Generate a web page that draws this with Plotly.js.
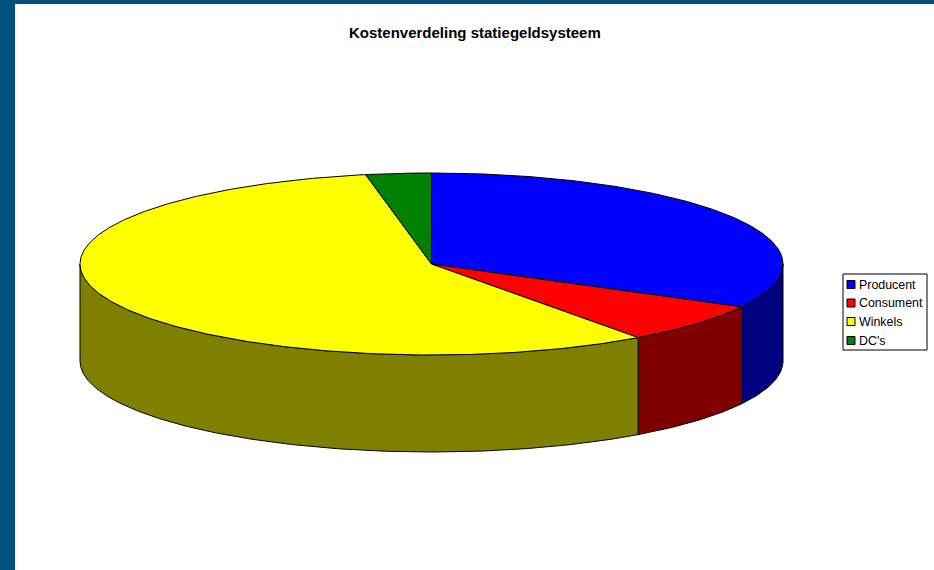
<!DOCTYPE html>
<html>
<head>
<meta charset="utf-8">
<script src="https://cdn.plot.ly/plotly-3.0.1.min.js"></script>
<style>html,body{margin:0;padding:0;background:#fff}#chart{width:934px;height:570px}</style>
</head>
<body>
<div id="chart"></div>
<script>
// Cost shares of the deposit system, in percent
const categories = ["Producent", "Consument", "Winkels", "DC's"];
const shares = [32.8, 7.2, 57.0, 3.0];
const topColors = ["#0000ff", "#ff0000", "#ffff00", "#008000"];
const wallColors = ["#000080", "#800000", "#808000", "#004000"];
const chartTitle = "Kostenverdeling statiegeldsysteem";

// Tilted disc geometry in pixel-based axis units
const disc = {cx: 431.5, cy: 264, rx: 351.5, ry: 91, depth: 97};
const FRONT_START = 90, FRONT_END = 270;

function rimPoint(deg, drop) {
  const a = deg * Math.PI / 180;
  return [disc.cx + disc.rx * Math.sin(a), disc.cy - disc.ry * Math.cos(a) + drop];
}
function arc(from, to, drop) {
  const n = Math.max(2, Math.ceil(Math.abs(to - from) * 2));
  const pts = [];
  for (let i = 0; i <= n; i++) pts.push(rimPoint(from + (to - from) * i / n, drop));
  return pts;
}
function polyTrace(pts, fill, name) {
  return {
    type: "scatter", mode: "lines", name: name, showlegend: false, hoverinfo: "name",
    x: pts.map(p => p[0]), y: pts.map(p => p[1]),
    fill: "toself", fillcolor: fill,
    line: {color: "#000000", width: 1, shape: "linear"}
  };
}

// Walls first, then the top wedges over them; start at twelve o'clock, clockwise
const total = shares.reduce((a, b) => a + b, 0);
const traces = [];
let start = 0;
const spans = shares.map(v => {
  const s = [start, start + v / total * 360];
  start = s[1];
  return s;
});
spans.forEach((s, i) => {
  const from = Math.max(s[0], FRONT_START), to = Math.min(s[1], FRONT_END);
  if (to > from) {
    const wall = arc(from, to, 0).concat(arc(to, from, disc.depth));
    wall.push(wall[0]);
    traces.push(polyTrace(wall, wallColors[i], categories[i]));
  }
});
spans.forEach((s, i) => {
  const wedge = [[disc.cx, disc.cy]].concat(arc(s[0], s[1], 0));
  wedge.push([disc.cx, disc.cy]);
  traces.push(polyTrace(wedge, topColors[i], categories[i]));
});

// Page frame and hand-laid legend box
const frameColor = "#005080";
const legendBox = {x0: 843, y0: 274, x1: 927, y1: 350};
const legendRows = [284.5, 303, 321.5, 340.5];
const shapes = [
  {type: "rect", xref: "x", yref: "y", x0: 0, x1: 934, y0: 0, y1: 4, fillcolor: frameColor, line: {width: 0}, layer: "below"},
  {type: "rect", xref: "x", yref: "y", x0: 0, x1: 15, y0: 0, y1: 570, fillcolor: frameColor, line: {width: 0}, layer: "below"},
  {type: "rect", xref: "x", yref: "y", x0: legendBox.x0, x1: legendBox.x1, y0: legendBox.y0, y1: legendBox.y1,
   fillcolor: "#ffffff", line: {color: "#000000", width: 1}}
];
const annotations = [];
categories.forEach((c, i) => {
  shapes.push({type: "rect", xref: "x", yref: "y", x0: 847, x1: 855, y0: legendRows[i] - 4, y1: legendRows[i] + 4,
    fillcolor: topColors[i], line: {color: "#000000", width: 1}});
  annotations.push({xref: "x", yref: "y", x: 858, y: legendRows[i], text: c, showarrow: false,
    xanchor: "left", yanchor: "middle", borderpad: 0,
    font: {family: "Liberation Sans, Arial, sans-serif", size: 12.4, color: "#000000"}});
});

Plotly.newPlot("chart", traces, {
  width: 934, height: 570,
  margin: {l: 0, r: 0, t: 0, b: 0},
  paper_bgcolor: "#ffffff", plot_bgcolor: "#ffffff",
  showlegend: false,
  title: {text: "<b>" + chartTitle + "</b>", x: 349 / 934, xanchor: "left", xref: "paper",
          y: 1 - 32.5 / 570, yanchor: "middle", yref: "paper",
          font: {family: "Liberation Sans, Arial, sans-serif", size: 15, color: "#000000"}},
  xaxis: {range: [0, 934], visible: false, fixedrange: true},
  yaxis: {range: [570, 0], visible: false, fixedrange: true},
  shapes: shapes,
  annotations: annotations
}, {displayModeBar: false, staticPlot: true});
</script>
</body>
</html>
